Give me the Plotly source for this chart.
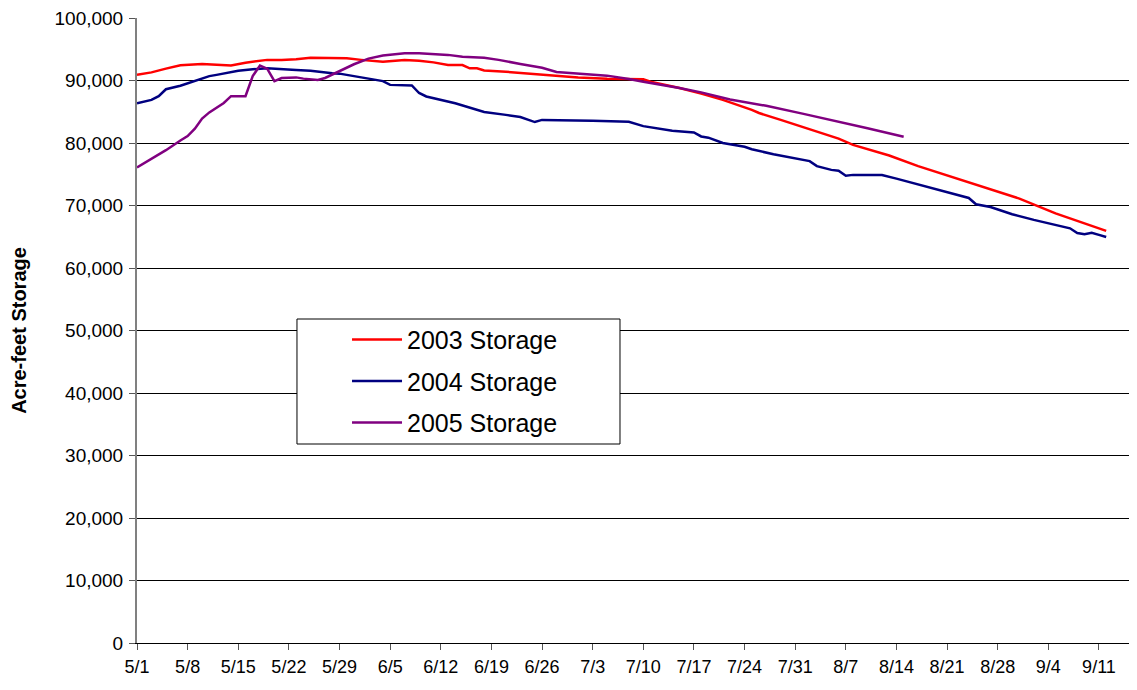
import plotly.graph_objects as go

YEAR = "2005"

# ---- data (month-day, acre-feet) ----
dates_2003 = ["05-01","05-03","05-05","05-07","05-10","05-12","05-14","05-16","05-19","05-21",
              "05-23","05-25","05-28","05-30","06-01","06-04","06-07","06-09","06-11","06-13",
              "06-15","06-16","06-17","06-18","06-21","06-23","06-26","07-01","07-05","07-08",
              "07-10","07-11","07-15","07-18","07-21","07-25","07-26","07-29","08-02","08-06",
              "08-08","08-13","08-17","08-21","08-27","08-31","09-05","09-09","09-12"]
storage_2003 = [90900,91300,91900,92450,92650,92500,92420,92850,93300,93300,
                93400,93650,93650,93550,93300,93000,93280,93170,92900,92500,
                92480,91950,91950,91600,91400,91200,91000,90500,90300,90200,
                90200,89800,88800,87900,86900,85300,84800,83700,82200,80700,
                79700,78000,76300,74800,72600,71100,68750,67150,65950]

dates_2004 = ["05-01","05-03","05-04","05-05","05-07","05-09","05-11","05-12","05-15","05-17",
              "05-19","05-23","05-25","05-28","05-29","06-01","06-03","06-04","06-05","06-08",
              "06-09","06-10","06-14","06-17","06-18","06-21","06-23","06-25","06-26","07-03",
              "07-08","07-10","07-14","07-17","07-18","07-19","07-21","07-24","07-25","07-28",
              "07-31","08-02","08-03","08-05","08-06","08-07","08-08","08-12","08-14","08-17",
              "08-19","08-24","08-25","08-27","08-30","09-02","09-07","09-08","09-09","09-10",
              "09-11","09-12"]
storage_2004 = [86350,86900,87500,88600,89150,89900,90700,90900,91550,91800,
                91950,91700,91550,91150,91100,90500,90050,89900,89300,89200,
                88000,87450,86350,85300,84950,84500,84150,83350,83700,83550,
                83400,82700,81950,81700,81050,80850,80000,79400,79000,78200,
                77500,77100,76300,75700,75550,74750,74900,74880,74300,73400,
                72750,71200,70200,69750,68600,67700,66350,65600,65400,65650,
                65300,64950]

dates_2005 = ["05-01","05-03","05-05","05-07","05-08","05-09","05-10","05-11","05-13","05-14",
              "05-16","05-17","05-18","05-19","05-20","05-21","05-23","05-24","05-26","05-27",
              "05-29","05-31","06-02","06-04","06-07","06-09","06-13","06-15","06-18","06-20",
              "06-23","06-26","06-28","07-01","07-05","07-08","07-10","07-15","07-18","07-22",
              "07-27","08-01","08-05","08-10","08-15"]
storage_2005 = [76100,77500,78850,80400,81100,82300,83900,84900,86400,87500,
                87500,90700,92400,91900,89900,90400,90500,90300,90100,90400,
                91500,92600,93500,94000,94350,94350,94100,93800,93650,93300,
                92650,92050,91350,91150,90780,90250,89800,88800,88100,86950,
                85950,84700,83700,82350,81000]

tick_dates = ["05-01","05-08","05-15","05-22","05-29","06-05","06-12","06-19","06-26","07-03",
              "07-10","07-17","07-24","07-31","08-07","08-14","08-21","08-28","09-04","09-11"]
tick_labels = ["5/1","5/8","5/15","5/22","5/29","6/5","6/12","6/19","6/26","7/3",
               "7/10","7/17","7/24","7/31","8/7","8/14","8/21","8/28","9/4","9/11"]

series = [
    ("2003 Storage", dates_2003, storage_2003, "#FF0000"),
    ("2004 Storage", dates_2004, storage_2004, "#000080"),
    ("2005 Storage", dates_2005, storage_2005, "#800080"),
]

def full(d):
    return f"{YEAR}-{d}"

fig = go.Figure()
for i, (name, ds, vs, col) in enumerate(series):
    fig.add_trace(go.Scatter(
        x=[full(d) for d in ds], y=vs, mode="lines", name=name,
        line=dict(color=col, width=2.5), legendgroup=f"g{i}",
    ))

FONT = "Arial, Liberation Sans, sans-serif"

# page body has an 8px margin, so the figure is sized to fit the window
fig.update_layout(
    width=1129, height=682, autosize=False,
    margin=dict(l=129, r=7, t=10, b=47, autoexpand=False),
    paper_bgcolor="white", plot_bgcolor="white",
    font=dict(family=FONT, color="black", size=18),
    showlegend=True,
    legend=dict(
        x=0.2115, y=0.522, xanchor="left", yanchor="top",
        bgcolor="rgba(0,0,0,0)", borderwidth=0,
        font=dict(family=FONT, size=25, color="black"),
        itemwidth=50, traceorder="grouped", tracegroupgap=6,
    ),
    shapes=[dict(type="rect", xref="paper", yref="paper",
                 x0=0.1611, x1=0.4864, y0=0.3184, y1=0.5184,
                 line=dict(color="black", width=1), fillcolor="white", layer="above")],
)

fig.update_xaxes(
    type="date", automargin=False,
    range=[full("05-01"), full("09-15") + " 07:00"],
    tickvals=[full(d) for d in tick_dates], ticktext=tick_labels,
    ticks="outside", ticklen=6, tickcolor="#555555", tickwidth=1,
    showline=True, linecolor="black", linewidth=1,
    showgrid=False, zeroline=False, ticklabeloverflow="allow",
    tickfont=dict(family=FONT, size=18), ticklabelstandoff=1,
)
fig.update_yaxes(
    automargin=False,
    range=[0, 100000], dtick=10000, tickformat=",",
    ticks="outside", ticklen=6, tickcolor="#555555", tickwidth=1,
    showline=True, linecolor="#808080", linewidth=2,
    showgrid=True, gridcolor="black", gridwidth=1, zeroline=False,
    ticklabeloverflow="allow",
    tickfont=dict(family=FONT, size=19), ticklabelstandoff=2,
    title=dict(text="<b>Acre-feet Storage</b>", font=dict(family=FONT, size=20), standoff=24),
)

fig.write_html("out.html")
